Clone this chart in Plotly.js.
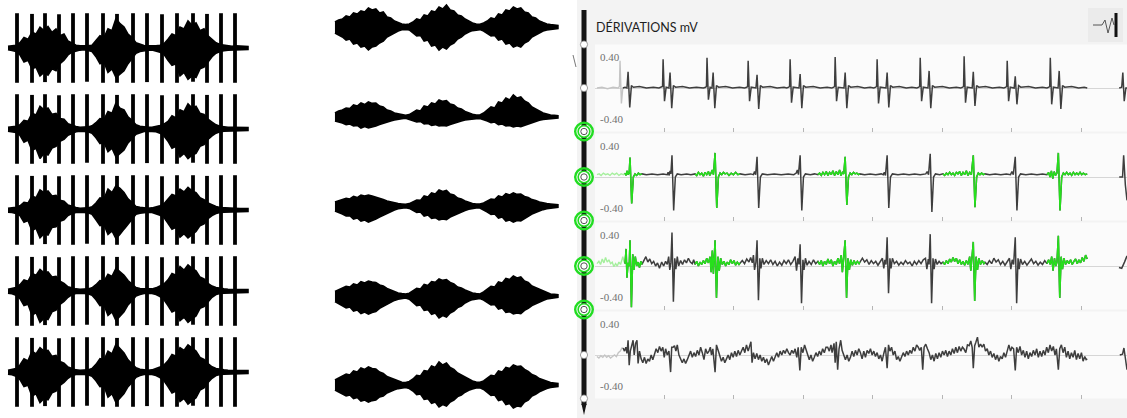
<!DOCTYPE html>
<html><head><meta charset="utf-8">
<script src="https://cdn.plot.ly/plotly-3.0.1.min.js"></script>
<style>html,body{margin:0;padding:0;background:#fff}#chart{width:1127px;height:418px}</style>
</head><body><div id="chart"></div>
<script>
// ================= DATA =================
// Left panel: 5 rows of spikes + envelope bursts (sample index 0..60)
const leftGrid = [0,1,2,3,4,5,6,7,8,9,10,11,12,13,14,15,16,17,18,19,20,21,22,23,24,25,26,27,28,29,30,31,32,33,34,35,36,37,38,39,40,41,42,43,44,45,46,47,48,49,50,51,52,53,54,55,56,57,58,59,60];
const leftSpikeX = [2.25,6,9.25,12.75,16.25,19.75,23.75,27.25,31.25,34.75,38.5,42.25,46.25,49.75,53.25,56.75];
const leftSpikeUp = [1.0,0.98,1.0,0.97,1.0,1.0,1.0,0.98,1.0,1.0,0.97,1.0,1.0,0.98,1.0,1.0];
const leftSpikeDown = [1.0,1.0,0.98,1.0,1.0,0.97,1.0,1.0,1.0,0.98,1.0,1.0,0.97,1.0,1.0,1.0];
const leftUpper1 = [0.05,0.06,0.08, 0.15,0.3,0.25,0.45,0.4,0.6,0.5,0.62,0.45,0.55,0.35,0.4,0.2, 0.15,0.08,0.06,0.05,0.06,0.08, 0.2,0.35,0.3,0.55,0.5,0.85,0.7,0.6,0.4,0.3,0.15, 0.1,0.07,0.06,0.05,0.06,0.08,0.12, 0.25,0.4,0.35,0.6,0.55,0.78,0.65,0.72,0.5,0.55,0.35,0.25,0.15, 0.1,0.08,0.06,0.05,0.06,0.05,0.04,0.04];
const leftLower1 = [0.05,0.07,0.1, 0.2,0.4,0.35,0.6,0.55,0.8,0.7,0.78,0.6,0.65,0.45,0.35,0.2, 0.12,0.08,0.06,0.05,0.07,0.1, 0.25,0.45,0.4,0.7,0.6,0.85,0.75,0.65,0.45,0.3,0.15, 0.1,0.07,0.06,0.06,0.08,0.12,0.18, 0.35,0.5,0.45,0.8,0.7,0.9,0.8,0.85,0.6,0.55,0.4,0.25,0.15, 0.1,0.08,0.06,0.05,0.05,0.05,0.04,0.04];
const leftUpper2 = [0.05,0.06,0.08, 0.12,0.25,0.22,0.45,0.4,0.65,0.55,0.6,0.42,0.45,0.3,0.28,0.15, 0.1,0.07,0.05,0.05,0.06,0.09, 0.18,0.3,0.28,0.5,0.45,0.75,0.6,0.55,0.35,0.25,0.12, 0.08,0.06,0.05,0.05,0.07,0.1,0.14, 0.22,0.38,0.32,0.55,0.5,0.72,0.6,0.65,0.45,0.42,0.28,0.2,0.12, 0.08,0.06,0.05,0.05,0.05,0.04,0.04,0.04];
const leftLower2 = [0.06,0.07,0.1, 0.18,0.38,0.32,0.62,0.55,0.85,0.7,0.75,0.55,0.5,0.35,0.3,0.18, 0.12,0.08,0.06,0.06,0.08,0.12, 0.25,0.42,0.38,0.65,0.55,0.8,0.7,0.6,0.4,0.28,0.15, 0.1,0.07,0.06,0.06,0.08,0.12,0.2, 0.35,0.55,0.5,0.8,0.7,0.85,0.75,0.7,0.5,0.45,0.3,0.2,0.12, 0.08,0.06,0.05,0.05,0.05,0.04,0.04,0.04];
const leftUpper3 = [0.05,0.06,0.08, 0.12,0.22,0.2,0.4,0.35,0.58,0.5,0.55,0.4,0.42,0.28,0.25,0.14, 0.1,0.07,0.05,0.05,0.06,0.09, 0.2,0.35,0.32,0.6,0.5,0.7,0.62,0.5,0.32,0.22,0.1, 0.08,0.06,0.05,0.06,0.08,0.12,0.18, 0.3,0.45,0.4,0.6,0.52,0.65,0.55,0.5,0.35,0.3,0.2,0.14,0.1, 0.07,0.06,0.05,0.05,0.05,0.04,0.04,0.04];
const leftLower3 = [0.06,0.07,0.1, 0.16,0.35,0.3,0.6,0.52,0.8,0.68,0.72,0.5,0.48,0.32,0.28,0.16, 0.1,0.07,0.06,0.06,0.08,0.12, 0.28,0.45,0.42,0.7,0.6,0.82,0.7,0.55,0.38,0.26,0.12, 0.09,0.07,0.06,0.07,0.1,0.15,0.22, 0.38,0.55,0.5,0.78,0.68,0.8,0.7,0.62,0.45,0.4,0.25,0.16,0.1, 0.07,0.06,0.05,0.05,0.05,0.04,0.04,0.04];
const leftUpper4 = [0.05,0.07,0.1, 0.18,0.32,0.28,0.5,0.45,0.62,0.52,0.55,0.4,0.42,0.28,0.22,0.12, 0.08,0.06,0.05,0.05,0.06,0.09, 0.18,0.3,0.28,0.48,0.42,0.65,0.55,0.45,0.3,0.2,0.1, 0.07,0.06,0.05,0.06,0.09,0.14,0.2, 0.32,0.5,0.45,0.7,0.6,0.75,0.65,0.58,0.4,0.35,0.22,0.14,0.1, 0.07,0.06,0.05,0.05,0.05,0.04,0.04,0.04];
const leftLower4 = [0.06,0.08,0.12, 0.22,0.42,0.38,0.7,0.62,0.9,0.78,0.82,0.6,0.55,0.38,0.3,0.18, 0.1,0.07,0.06,0.06,0.08,0.12, 0.25,0.42,0.4,0.7,0.6,0.85,0.72,0.6,0.4,0.28,0.14, 0.1,0.07,0.06,0.07,0.1,0.16,0.25, 0.42,0.6,0.55,0.85,0.75,0.9,0.8,0.72,0.5,0.45,0.3,0.18,0.1, 0.07,0.06,0.05,0.05,0.05,0.04,0.04,0.04];
const leftUpper5 = [0.05,0.07,0.1, 0.2,0.38,0.32,0.6,0.52,0.7,0.6,0.62,0.45,0.48,0.3,0.25,0.14, 0.09,0.06,0.05,0.05,0.06,0.1, 0.22,0.38,0.35,0.6,0.52,0.8,0.68,0.55,0.35,0.22,0.12, 0.08,0.06,0.05,0.06,0.09,0.14,0.2, 0.32,0.5,0.45,0.7,0.62,0.78,0.68,0.6,0.42,0.36,0.24,0.15,0.1, 0.07,0.06,0.05,0.05,0.05,0.04,0.04,0.04];
const leftLower5 = [0.06,0.08,0.12, 0.22,0.42,0.38,0.7,0.62,0.88,0.76,0.8,0.6,0.55,0.38,0.3,0.18, 0.1,0.07,0.06,0.06,0.08,0.12, 0.25,0.42,0.4,0.72,0.62,0.88,0.75,0.62,0.42,0.3,0.15, 0.1,0.07,0.06,0.07,0.1,0.16,0.25, 0.42,0.6,0.55,0.85,0.76,0.92,0.82,0.74,0.52,0.46,0.3,0.18,0.1, 0.07,0.06,0.05,0.05,0.05,0.04,0.04,0.04];

// Middle panel: 5 rows of envelope bursts (sample index 0..60)
const midGrid = leftGrid;
const midUpper1 = [0.25,0.35,0.4,0.55,0.5,0.7,0.65,0.8,0.75,0.95,0.85,0.9,0.7,0.75,0.5,0.45,0.3,0.22,0.15,0.12, 0.15,0.25,0.4,0.35,0.6,0.55,0.8,0.75,1.0,0.9,1.1,0.85,0.8,0.6,0.55,0.4,0.3,0.2,0.15,0.14, 0.2,0.3,0.45,0.4,0.65,0.6,0.85,0.8,1.0,0.9,0.95,0.75,0.7,0.5,0.45,0.3,0.22,0.15,0.12,0.1,0.08];
const midLower1 = [0.3,0.4,0.5,0.65,0.6,0.85,0.8,1.0,0.95,1.15,1.0,0.95,0.8,0.7,0.5,0.4,0.3,0.2,0.14,0.12, 0.15,0.3,0.45,0.42,0.7,0.65,0.95,0.9,1.15,1.0,1.1,0.9,0.8,0.6,0.5,0.35,0.25,0.18,0.14,0.13, 0.2,0.32,0.45,0.42,0.65,0.6,0.85,0.8,1.0,0.92,1.0,0.8,0.7,0.5,0.42,0.3,0.2,0.15,0.12,0.1,0.08];
const midUpper2 = [0.2,0.3,0.35,0.45,0.42,0.6,0.55,0.7,0.62,0.75,0.68,0.7,0.55,0.5,0.35,0.3,0.2,0.15,0.1,0.08, 0.12,0.22,0.35,0.3,0.55,0.5,0.7,0.65,0.85,0.78,0.82,0.65,0.6,0.45,0.4,0.28,0.2,0.14,0.1,0.1, 0.2,0.35,0.5,0.45,0.75,0.7,0.95,0.85,1.1,0.95,1.0,0.8,0.7,0.5,0.42,0.3,0.2,0.14,0.1,0.08,0.06];
const midLower2 = [0.2,0.25,0.3,0.38,0.35,0.45,0.42,0.55,0.48,0.55,0.5,0.45,0.38,0.32,0.25,0.2,0.15,0.1,0.08,0.06, 0.1,0.18,0.25,0.22,0.35,0.32,0.42,0.38,0.45,0.42,0.45,0.38,0.32,0.25,0.2,0.15,0.12,0.1,0.08,0.08, 0.12,0.2,0.28,0.25,0.38,0.35,0.45,0.42,0.5,0.45,0.48,0.4,0.35,0.28,0.22,0.16,0.12,0.1,0.08,0.06,0.05];
const midUpper3 = [0.2,0.25,0.3,0.38,0.35,0.48,0.42,0.55,0.5,0.55,0.5,0.45,0.38,0.32,0.25,0.2,0.15,0.12,0.1,0.08, 0.12,0.2,0.3,0.28,0.5,0.45,0.65,0.6,0.8,0.72,0.78,0.6,0.55,0.4,0.35,0.25,0.18,0.12,0.1,0.1, 0.15,0.25,0.35,0.32,0.5,0.45,0.62,0.55,0.65,0.58,0.6,0.48,0.42,0.32,0.28,0.2,0.15,0.12,0.1,0.08,0.06];
const midLower3 = [0.25,0.32,0.4,0.5,0.48,0.65,0.6,0.75,0.7,0.8,0.72,0.65,0.55,0.45,0.35,0.28,0.2,0.14,0.1,0.08, 0.12,0.22,0.32,0.3,0.5,0.45,0.62,0.58,0.7,0.65,0.68,0.55,0.48,0.38,0.3,0.22,0.16,0.12,0.1,0.1, 0.18,0.3,0.42,0.4,0.6,0.55,0.75,0.7,0.8,0.72,0.75,0.6,0.52,0.4,0.32,0.24,0.18,0.14,0.1,0.08,0.06];
const midUpper4 = [0.22,0.3,0.38,0.48,0.45,0.6,0.55,0.72,0.65,0.75,0.7,0.68,0.55,0.5,0.38,0.3,0.2,0.15,0.12,0.1, 0.14,0.25,0.38,0.35,0.58,0.52,0.72,0.68,0.85,0.78,0.82,0.68,0.6,0.45,0.4,0.3,0.22,0.15,0.12,0.1, 0.2,0.32,0.48,0.45,0.7,0.65,0.88,0.82,1.0,0.9,0.95,0.75,0.68,0.5,0.42,0.3,0.22,0.15,0.1,0.08,0.06];
const midLower4 = [0.28,0.38,0.48,0.6,0.55,0.75,0.7,0.88,0.8,0.9,0.82,0.78,0.62,0.55,0.42,0.32,0.22,0.16,0.12,0.1, 0.16,0.3,0.48,0.45,0.72,0.68,0.92,0.85,1.1,0.98,1.05,0.85,0.75,0.58,0.5,0.35,0.25,0.18,0.14,0.12, 0.2,0.32,0.45,0.42,0.65,0.6,0.82,0.78,0.9,0.85,0.88,0.72,0.62,0.48,0.4,0.3,0.22,0.15,0.1,0.08,0.06];
const midUpper5 = [0.25,0.35,0.45,0.55,0.5,0.7,0.65,0.85,0.78,0.9,0.82,0.8,0.65,0.58,0.42,0.35,0.25,0.18,0.14,0.12, 0.18,0.3,0.48,0.45,0.72,0.68,0.95,0.88,1.15,1.0,1.1,0.88,0.78,0.6,0.5,0.38,0.28,0.2,0.15,0.14, 0.2,0.32,0.48,0.45,0.7,0.65,0.88,0.82,1.0,0.92,0.95,0.78,0.68,0.52,0.45,0.32,0.24,0.16,0.12,0.1,0.08];
const midLower5 = [0.25,0.35,0.45,0.55,0.5,0.68,0.62,0.8,0.75,0.85,0.78,0.75,0.6,0.55,0.4,0.32,0.24,0.18,0.14,0.12, 0.18,0.3,0.48,0.45,0.72,0.68,0.92,0.85,1.1,0.98,1.05,0.85,0.75,0.58,0.5,0.36,0.26,0.2,0.15,0.14, 0.22,0.35,0.52,0.5,0.78,0.72,0.98,0.92,1.15,1.05,1.08,0.85,0.75,0.55,0.46,0.34,0.25,0.18,0.12,0.1,0.08];

// Right panel: ECG leads, [time ms, mV]
const ecgTickMs = [250,500,750,1000,1250,1500,1750];
const ecgLabelVals = [0.4,-0.4];
const ecgLabelText = ['0.40','-0.40'];
const leadI = [[7,0],[25,0.01],[45,-0.01],[65,0.01],[83,0],[88,0.02],[90,0.35],[95,-0.2],[100,0],
[108,0.01],[115,0],[119,0.21],[125,-0.25],[131,0.03],[138,0.01],[160,0.02],[185,0],[210,0.01],[230,0],[238,0.01],
[243,0.02],[245,0.37],[250,-0.17],[256,0.01],[266,0],[270,0.2],[276,-0.26],[282,0.03],[290,0.01],[315,0.02],[340,0],[365,0.01],[390,0],[398,0.01],
[401,0.02],[403,0.39],[408,-0.15],[414,0.01],[421,0],[425,0.2],[431,-0.26],[437,0.03],[445,0.01],[470,0.02],[495,0],[520,0.01],[538,0],[546,0.01],
[549,0.02],[551,0.35],[556,-0.17],[562,0.01],[579,0],[583,0.17],[589,-0.27],[595,0.03],[603,0.01],[630,0.02],[655,0],[680,0.01],[690,0],[697,0.01],
[700,0.02],[702,0.37],[707,-0.19],[713,0.01],[734,0],[738,0.18],[744,-0.26],[750,0.03],[758,0.01],[785,0.02],[810,0],[835,0.01],[852,0],[859,0.01],
[862,0.02],[864,0.4],[869,-0.17],[875,0.01],[896,0],[900,0.2],[906,-0.26],[912,0.03],[920,0.01],[945,0.02],[970,0],[990,0.01],[1003,0],[1010,0.01],
[1013,0.02],[1015,0.37],[1020,-0.2],[1026,0.01],[1047,0],[1051,0.2],[1057,-0.25],[1063,0.03],[1071,0.01],[1095,0.02],[1120,0],[1140,0.01],[1158,0],[1165,0.01],
[1168,0.02],[1170,0.39],[1175,-0.17],[1181,0.01],[1198,0],[1202,0.22],[1208,-0.26],[1214,0.03],[1222,0.01],[1250,0.02],[1275,0],[1300,0.01],[1316,0],[1323,0.01],
[1326,0.02],[1328,0.41],[1333,-0.19],[1339,0.01],[1357,0],[1361,0.21],[1367,-0.23],[1373,0.03],[1381,0.01],[1405,0.02],[1430,0],[1455,0.01],[1471,0],[1478,0.01],
[1481,0.02],[1483,0.35],[1488,-0.17],[1494,0.01],[1508,0],[1512,0.15],[1518,-0.21],[1524,0.03],[1532,0.01],[1560,0.02],[1585,0],[1610,0.01],[1626,0],[1633,0.01],
[1636,0.02],[1638,0.39],[1643,-0.21],[1649,0.01],[1666,0],[1670,0.22],[1676,-0.27],[1682,0.03],[1690,0.01],[1715,0.02],[1740,0],[1760,0.01],[1771,0],
[1800,null],[1886,0],[1895,0.01],[1899,0.2],[1904,-0.17],[1910,0],[1914,0]];
const leadII = [[7,0.03],[15,0.04],[22,0.02],[30,0.05],[38,0.03],[46,0.04],[54,0.02],[62,0.05],[70,0.03],[78,0.05],[86,0.02],[94,0.04],[102,0.03],[108,0.05],
[112,0.02],[116,0.08],[119,0.03],[123,0.05],[126,0.25],[132,-0.34],[138,0],[144,0.04],[150,0.02],[156,0.05],[162,0.03],[169,0.04],
[185,0.03],[205,0.04],[225,0.03],[245,0.04],[260,0.03],[263,0.06],[267,0.02],[270,0.08],[273,0.04],[277,0.28],[283,-0.43],[289,0],[296,0.04],[310,0.03],[330,0.04],[345,0.03],[360,0.04],
[366,0.02],[372,0.06],[378,0.03],[384,0.05],[390,0.01],[396,0.06],[402,0.03],[408,0.07],[413,0.02],[418,0.05],[422,0.09],[426,0.03],[432,0.31],[438,-0.4],[444,0],[450,0.05],[456,0.03],[462,0.06],[468,0.04],[475,0.05],[482,0.02],[490,0.05],[498,0.03],[506,0.06],[514,0.03],[522,0.04],
[540,0.03],[560,0.04],[570,0.03],[574,0.07],[578,0.03],[583,0.26],[589,-0.4],[595,0],[602,0.04],[620,0.03],[645,0.04],[670,0.03],[695,0.04],[715,0.03],[724,0.05],[728,0.09],[732,0.03],[738,0.28],[744,-0.43],[750,0],[757,0.04],[775,0.03],[790,0.04],[802,0.03],
[808,0.05],[814,0.02],[820,0.06],[826,0.03],[832,0.07],[838,0.02],[844,0.06],[850,0.03],[856,0.08],[862,0.02],[868,0.07],[874,0.03],[880,0.09],[885,0.02],[890,0.06],[895,0.04],[900,0.26],[906,-0.36],[912,0],[918,0.05],[924,0.03],[930,0.06],[936,0.04],[942,0.05],[948,0.03],[953,0.04],
[970,0.03],[990,0.04],[1010,0.03],[1030,0.04],[1037,0.03],[1041,0.06],[1045,0.02],[1051,0.28],[1057,-0.4],[1063,0],[1070,0.04],[1090,0.03],[1110,0.04],[1130,0.03],[1150,0.04],[1170,0.03],[1190,0.04],[1195,0.07],[1200,0.03],[1206,0.3],[1212,-0.45],[1218,0],[1225,0.04],[1240,0.03],[1252,0.04],
[1258,0.02],[1264,0.05],[1270,0.03],[1276,0.06],[1282,0.03],[1288,0.05],[1294,0.02],[1300,0.06],[1306,0.04],[1312,0.07],[1318,0.02],[1324,0.06],[1330,0.03],[1336,0.08],[1342,0.02],[1348,0.06],[1354,0.03],[1361,0.28],[1367,-0.39],[1373,0],[1379,0.05],[1385,0.03],[1391,0.05],[1397,0.03],[1403,0.04],
[1420,0.03],[1440,0.04],[1460,0.03],[1480,0.04],[1495,0.03],[1500,0.07],[1505,0.03],[1512,0.26],[1518,-0.43],[1524,0],[1531,0.04],[1550,0.03],[1570,0.04],[1590,0.03],[1610,0.04],[1626,0.03],
[1632,0.06],[1637,0],[1642,0.08],[1647,-0.02],[1652,0.07],[1657,0.02],[1662,0.05],[1667,0.31],[1673,-0.43],[1679,0],[1685,0.05],[1691,0.03],[1697,0.06],[1703,0.03],[1709,0.05],[1715,0.02],[1721,0.06],[1727,0.03],[1733,0.05],[1739,0.03],[1745,0.06],[1751,0.03],[1757,0.05],[1764,0.03],[1771,0.04],
[1800,null],[1886,0],[1898,0],[1902,0.28],[1908,-0.1],[1914,-0.3]];
const leadIII = [[7,0.03],[14,0.06],[20,0.02],[26,0.09],[32,0.04],[38,0.11],[44,0.05],[50,0.08],[56,0.03],[62,0.05],[68,-0.01],[74,0.03],[80,0],[86,0.05],[92,0.02],[100,0.12],[104,0.06],[108,0.03],
[112,0.22],[115,-0.15],[119,0.04],[123,0],[126,0.33],[131,-0.53],[136,0.15],[140,-0.05],[145,0.12],[150,0],[155,0.05],[160,-0.02],[165,0.06],[169,0.02],
[176,0.08],[183,0.12],[190,0.05],[197,0.09],[204,0.03],[211,0.06],[218,0],[225,0.04],[232,-0.03],[240,0.05],[247,0],[254,0.06],[260,0.02],[265,0.12],[269,-0.05],[273,0.04],[277,0.43],[282,-0.46],[287,0.1],[291,-0.04],[296,0.12],[301,0],[308,0.07],[315,0.02],[322,0.08],[329,0.04],[336,0.1],[343,0.05],[350,0.03],[355,0.08],[360,0.02],
[366,0.06],[372,0],[378,0.05],[384,0.02],[390,0.07],[396,0.03],[402,0.1],[408,0.04],[414,0.12],[418,-0.08],[422,0.2],[426,-0.1],[432,0.33],[437,-0.41],[442,0.12],[447,-0.06],[452,0.1],[458,0.02],[464,0.06],[470,0],[476,0.05],[482,0.02],[488,0.08],[494,0.03],[500,0.07],[506,0.01],[512,0.05],[518,0.02],[522,0.04],
[530,0.07],[538,0.03],[546,0.09],[554,0.05],[560,0.11],[566,0.04],[570,0.14],[574,-0.05],[579,0.05],[583,0.33],[588,-0.44],[593,0.1],[597,-0.03],[602,0.1],[608,0.02],[616,0.07],[624,0.03],[632,0.08],[640,0.02],[648,0.06],[656,0],[664,0.05],[672,0.01],[680,0.07],[688,0.03],[696,0.08],[704,0.02],[712,0.06],[720,0.12],[725,-0.06],[730,0.1],[734,0.02],[738,0.28],[743,-0.48],[748,0.08],[752,-0.05],[757,0.1],[763,0.01],[770,0.06],[778,0.02],[786,0.08],[794,0.03],[802,0.06],
[808,0.02],[814,0.07],[820,0],[826,0.06],[832,0.02],[838,0.09],[844,0.03],[850,0.08],[856,0],[862,0.06],[868,0.02],[874,0.1],[880,0.03],[886,0.14],[890,-0.08],[895,0.12],[900,0.33],[905,-0.41],[910,0.1],[915,-0.05],[920,0.08],[926,0.01],[932,0.07],[938,0.02],[944,0.06],[950,0.03],[953,0.05],
[962,0.1],[970,0.05],[978,0.08],[986,0.02],[994,0.07],[1002,0.03],[1010,0.06],[1018,0.01],[1026,0.05],[1034,0.1],[1039,-0.03],[1043,0.08],[1047,0.02],[1051,0.37],[1056,-0.35],[1061,0.1],[1065,-0.03],[1070,0.1],[1077,0.03],[1085,0.06],[1093,0.01],[1101,0.05],[1109,0.02],[1117,0.07],[1125,0.03],[1133,0.05],[1141,0],[1149,0.06],[1157,0.02],[1165,0.07],[1173,0.03],[1181,0.08],[1189,0.1],[1194,-0.04],[1199,0.09],[1202,0.02],[1206,0.41],[1211,-0.48],[1216,0.1],[1220,-0.04],[1225,0.09],[1231,0.02],[1238,0.06],[1245,0.03],[1252,0.05],
[1258,0.02],[1264,0.07],[1270,0.03],[1276,0.09],[1282,0.05],[1288,0.11],[1294,0.06],[1300,0.1],[1306,0.03],[1312,0.08],[1318,0.02],[1324,0.06],[1330,0.01],[1336,0.07],[1342,0.02],[1348,0.12],[1352,-0.06],[1356,0.1],[1361,0.31],[1366,-0.45],[1371,0.12],[1376,-0.05],[1381,0.1],[1387,0.02],[1393,0.07],[1399,0.03],[1403,0.05],
[1411,0.02],[1419,0.07],[1427,0.03],[1435,0.1],[1443,0.05],[1451,0.08],[1459,0.02],[1467,0.06],[1475,0.01],[1483,0.05],[1491,0.1],[1496,-0.04],[1501,0.08],[1506,0.02],[1512,0.37],[1517,-0.48],[1522,0.1],[1526,-0.04],[1531,0.09],[1538,0.02],[1546,0.06],[1554,0.01],[1562,0.05],[1570,0.09],[1578,0.03],[1586,0.06],[1594,0.01],[1602,0.05],[1610,0.02],[1618,0.07],[1626,0.03],
[1632,0.08],[1638,0.02],[1643,0.12],[1648,-0.06],[1653,0.1],[1658,0],[1662,0.05],[1667,0.39],[1672,-0.41],[1677,0.12],[1682,-0.04],[1687,0.1],[1693,0.02],[1699,0.07],[1705,0.03],[1711,0.08],[1717,0.02],[1723,0.06],[1729,0.09],[1735,0.03],[1741,0.08],[1747,0.04],[1753,0.11],[1759,0.06],[1765,0.14],[1771,0.09],
[1800,null],[1885,-0.02],[1895,-0.03],[1905,0.05],[1914,0.13]];
const leadIV = [[7,-0.02],[14,-0.04],[21,-0.01],[28,-0.03],[35,0],[42,-0.03],[49,-0.01],[56,-0.04],[63,-0.02],[70,0],[77,-0.02],[84,0.03],[91,0.05],[97,0.09],[101,0.09],
[106,0.05],[111,0.1],[115,0.02],[119,0.19],[123,-0.13],[127,0.05],[132,0.12],[137,0.19],[141,0],[146,0.15],[151,0.19],[155,-0.11],[160,0.05],[166,-0.05],[172,-0.1],[178,-0.03],[184,-0.11],[190,-0.05],[196,-0.08],[202,0],[208,-0.06],[214,0.03],[220,0.08],[226,0.03],[232,0.11],[238,0.05],[244,0.1],[249,-0.03],[254,0.08],[260,0],[266,0.05],[272,-0.22],[276,0.1],[281,0.1],[286,0.12],[291,0.05],[296,0.13],[302,0],[308,-0.05],[314,-0.1],[320,-0.05],[326,-0.11],[332,-0.06],[338,0],[344,0.05],[350,-0.03],[356,0.03],[362,-0.02],[368,0.06],[374,0],[380,0.1],[386,0.03],[392,-0.06],[398,0.08],[404,0.02],[410,0.05],[415,0.1],[419,0],[424,0.08],[432,-0.22],[437,0.13],[443,0.06],[449,-0.03],[455,-0.08],[461,-0.03],[467,-0.1],[473,-0.05],[479,0],[485,-0.06],[491,0.03],[497,-0.03],[503,0.05],[509,-0.02],[515,0.06],[521,0],[527,0.05],[533,0.1],[539,0.03],[545,0.13],[551,0.05],[556,0.12],[561,0.17],[565,-0.1],[570,0.03],[576,-0.05],[582,0.02],[588,-0.06],[594,0],[600,-0.08],[606,-0.03],[612,-0.1],[618,-0.05],[624,-0.13],[630,-0.06],[636,-0.02],[642,-0.08],[648,-0.03],[654,0.03],[660,-0.03],[666,0.05],[672,0],[678,0.06],[684,0.02],[690,0.08],[696,0.03],[702,0],[708,0.06],[714,0.02],[720,0.08],[726,-0.03],[731,0.1],[737,-0.2],[742,0.1],[748,0.03],[754,0.13],[759,0.08],[765,0],[771,-0.06],[777,0],[783,-0.08],[789,-0.03],[795,0.03],[801,-0.02],[807,0.05],[813,0],[819,0.08],[825,0.03],[831,0.1],[837,0.1],[843,0.05],[849,0.13],[853,0.03],[860,0.15],[864,-0.1],[868,0.17],[873,-0.19],[878,0.08],[884,0.19],[889,0.06],[895,0],[901,-0.06],[907,0],[913,-0.08],[919,-0.03],[925,0.05],[931,-0.02],[937,0.06],[943,0],[949,0.08],[955,0.03],[961,-0.05],[967,0.05],[973,-0.03],[979,0.06],[985,0.02],[991,0.08],[997,0],[1003,0.05],[1009,-0.02],[1015,0.03],[1021,-0.05],[1027,0],[1033,-0.08],[1039,0.02],[1045,0.1],[1051,-0.17],[1056,0.13],[1061,0.05],[1067,0.1],[1073,0],[1079,0.05],[1085,-0.06],[1091,-0.02],[1097,-0.08],[1103,-0.03],[1109,0.03],[1115,-0.02],[1121,0.05],[1127,0],[1133,0.06],[1139,0.02],[1145,0.1],[1151,0.05],[1157,0.13],[1163,0.1],[1168,0.06],[1174,0.1],[1179,-0.19],[1184,0.1],[1190,0.14],[1196,0.08],[1202,0.03],[1208,-0.06],[1214,0],[1220,-0.08],[1226,0.02],[1232,-0.05],[1238,0.03],[1244,-0.03],[1250,0.05],[1256,0],[1262,0.06],[1268,-0.02],[1274,0.05],[1280,0],[1286,0.08],[1292,0.02],[1298,0.1],[1304,0.03],[1310,0.11],[1316,0.05],[1322,0.1],[1327,0.08],[1334,0.03],[1340,0.13],[1346,0.12],[1352,0.18],[1357,0.1],[1361,-0.17],[1366,0.12],[1370,0.16],[1376,0.23],[1381,0.1],[1387,0.14],[1393,0.1],[1399,0.14],[1405,0.05],[1411,0.08],[1417,0],[1423,0.05],[1429,-0.03],[1435,0.02],[1441,-0.06],[1447,0],[1453,-0.08],[1459,-0.02],[1465,-0.05],[1471,0.03],[1477,-0.03],[1483,0.05],[1489,0.13],[1495,0.05],[1500,0.1],[1506,0.08],[1512,-0.2],[1517,0.1],[1523,0.03],[1529,0.11],[1535,0],[1541,0.06],[1547,-0.03],[1553,0.05],[1559,-0.05],[1565,0.03],[1571,-0.02],[1577,0.06],[1583,0],[1589,0.08],[1595,-0.03],[1601,0.05],[1607,-0.02],[1613,0.06],[1619,0],[1625,0.1],[1631,0.03],[1637,0.13],[1643,0.05],[1649,0.11],[1655,0],[1660,0.08],[1667,-0.19],[1672,0.08],[1678,0.13],[1684,0.03],[1690,0.1],[1696,-0.03],[1702,0.05],[1708,-0.05],[1714,0.03],[1720,-0.03],[1726,0.06],[1732,-0.06],[1738,0.02],[1744,-0.05],[1750,0.03],[1756,-0.08],[1762,-0.02],[1767,-0.06],[1771,-0.05],
[1800,null],[1888,0],[1898,0.01],[1903,0.09],[1908,-0.05],[1914,-0.19]];
const fadeEndMs = [100,108,108,101];
const highlightWindowsMs = [[108,169],[360,522],[802,953],[1252,1403],[1626,1771]];
const highlightedLeads = [2,3];

// ================= BUILD =================
const W = 1127, H = 418;
const px = x => x / W, py = y => 1 - y / H;
const traces = [];
const layout = {
  width: W, height: H, margin: {l:0, r:0, t:0, b:0},
  paper_bgcolor: '#ffffff', plot_bgcolor: 'rgba(0,0,0,0)',
  showlegend: false, hovermode: false, shapes: [], annotations: []
};
function hiddenAxis(extra){ return Object.assign({showgrid:false, zeroline:false, showticklabels:false, ticks:'', showline:false, fixedrange:true}, extra); }
function envelope(grid, up, lo, ax){
  return {type:'scatter', mode:'lines', x:grid.concat(grid.slice().reverse()),
    y:up.concat(lo.slice().reverse().map(v=>-v)), fill:'toself', fillcolor:'#000',
    line:{color:'#000', width:1.6}, xaxis:'x'+ax, yaxis:'y'+ax};
}

let ax = 0;
// Left panel
const leftRows = [[leftUpper1,leftLower1],[leftUpper2,leftLower2],[leftUpper3,leftLower3],[leftUpper4,leftLower4],[leftUpper5,leftLower5]];
const leftCenters = [48,129,210,291,372];
leftRows.forEach((r,i) => {
  ax++;
  const k = ax === 1 ? '' : ax;
  layout['xaxis'+k] = hiddenAxis({domain:[px(6), px(250)], range:[-0.5,60.5], anchor:'y'+ax});
  layout['yaxis'+k] = hiddenAxis({domain:[py(leftCenters[i]+40), py(leftCenters[i]-40)], range:[-1.15,1.15], anchor:'x'+ax});
  traces.push(envelope(leftGrid, r[0], r[1], ax));
  const sx = [], sy = [];
  leftSpikeX.forEach((s,j) => { sx.push(s,s,null); sy.push(-leftSpikeDown[j], leftSpikeUp[j], null); });
  traces.push({type:'scatter', mode:'lines', x:sx, y:sy, line:{color:'#000', width:3.8}, xaxis:'x'+ax, yaxis:'y'+ax});
});
// Middle panel
const midRows = [[midUpper1,midLower1],[midUpper2,midLower2],[midUpper3,midLower3],[midUpper4,midLower4],[midUpper5,midLower5]];
const midCenters = [27,117,206,296,385];
midRows.forEach((r,i) => {
  ax++;
  layout['xaxis'+ax] = hiddenAxis({domain:[px(333.1), px(559.8)], range:[-0.5,60.5], anchor:'y'+ax});
  layout['yaxis'+ax] = hiddenAxis({domain:[py(midCenters[i]+26), py(midCenters[i]-26)], range:[-1.3,1.3], anchor:'x'+ax});
  traces.push(envelope(midGrid, r[0], r[1], ax));
});

// Right panel background
layout.shapes.push({type:'rect', xref:'paper', yref:'paper', x0:px(577), x1:1, y0:0, y1:1, fillcolor:'#f3f3f3', line:{width:0}, layer:'below'});
const leads = [leadI, leadII, leadIII, leadIV];
const ecgCenters = [88,177,266,355], ecgHalf = 43.5;
function seg(pts, a, b){ const s = pts.filter(p => p[0] >= a && p[0] <= b); return {x:s.map(p=>p[0]), y:s.map(p=>p[1])}; }
leads.forEach((pts,i) => {
  ax++;
  const c = ecgCenters[i];
  layout['xaxis'+ax] = {domain:[px(595), 1], range:[0,1914], anchor:'y'+ax, showgrid:false, zeroline:false, showline:false,
    showticklabels:false, ticks:'inside', tickvals:ecgTickMs, ticklen:4, tickwidth:1, tickcolor:'#b5b5b5', fixedrange:true};
  layout['yaxis'+ax] = {domain:[py(c+ecgHalf), py(c-ecgHalf)], range:[-0.56,0.56], anchor:'x'+ax, showgrid:false,
    zeroline:true, zerolinecolor:'#d6d6d6', zerolinewidth:1, showline:false, ticks:'',
    tickvals:ecgLabelVals, ticktext:ecgLabelText, ticklabelposition:'inside', ticklabelstandoff:2,
    tickfont:{family:'Liberation Serif, DejaVu Serif, serif', size:11, color:'#707070'}, fixedrange:true};
  layout.shapes.push({type:'rect', xref:'paper', yref:'paper', x0:px(595), x1:1, y0:py(c+ecgHalf), y1:py(c-ecgHalf),
    fillcolor:'#fbfbfb', line:{width:0}, layer:'below'});
  const hl = highlightedLeads.includes(i+1);
  const fade = seg(pts, 0, fadeEndMs[i]);
  traces.push({type:'scatter', mode:'lines', x:fade.x, y:fade.y, line:{color: hl ? '#a6ef9e' : '#c4c4c4', width:1.4}, xaxis:'x'+ax, yaxis:'y'+ax});
  const main = seg(pts, fadeEndMs[i], 5000);
  traces.push({type:'scatter', mode:'lines', x:main.x, y:main.y, line:{color:'#3e3e3e', width:1.5}, xaxis:'x'+ax, yaxis:'y'+ax});
  if (hl) {
    highlightWindowsMs.forEach(w => {
      const g = seg(pts, w[0], w[1]);
      traces.push({type:'scatter', mode:'lines', x:g.x, y:g.y, line:{color:'#26e01c', width:1.5}, xaxis:'x'+ax, yaxis:'y'+ax});
    });
  }
});

// Header
layout.annotations.push({xref:'paper', yref:'paper', x:px(594), y:py(27), xanchor:'left', yanchor:'middle', showarrow:false,
  text:'DÉRIVATIONS mV', font:{family:'Lato, Noto Sans, sans-serif', size:12.5, color:'#1e1e1e'}});
// Icon button
layout.shapes.push({type:'rect', xref:'paper', yref:'paper', x0:px(1088), x1:px(1123), y0:py(42), y1:py(8), fillcolor:'#ebebeb', line:{width:0}});
layout.shapes.push({type:'path', xref:'paper', yref:'paper',
  path:`M${px(1093)},${py(25)} L${px(1102)},${py(25)} L${px(1105)},${py(20)} L${px(1108)},${py(33)} L${px(1112)},${py(18)} L${px(1114)},${py(25)}`,
  line:{color:'#555', width:1}});
layout.shapes.push({type:'line', xref:'paper', yref:'paper', x0:px(1116), x1:px(1116), y0:py(13), y1:py(37), line:{color:'#111', width:3}});
// small diagonal mark
layout.shapes.push({type:'line', xref:'paper', yref:'paper', x0:px(573), x1:px(576), y0:py(55), y1:py(67), line:{color:'#777', width:1}});
// Lead selector bar
layout.shapes.push({type:'line', xref:'paper', yref:'paper', x0:px(584), x1:px(584), y0:py(10), y1:py(405), line:{color:'#141414', width:5}});
layout.shapes.push({type:'path', xref:'paper', yref:'paper', path:`M${px(581.5)},${py(404)} L${px(586.5)},${py(404)} L${px(584)},${py(415)} Z`, fillcolor:'#141414', line:{width:0}});
function circ(cx, cy, r, fill, lc, lw){
  layout.shapes.push({type:'circle', xref:'paper', yref:'paper', x0:px(cx-r), x1:px(cx+r), y0:py(cy+r), y1:py(cy-r),
    fillcolor:fill, line:{color:lc, width:lw}});
}
const knobs = [];
ecgCenters.forEach((c,i) => {
  const hl = highlightedLeads.includes(i+1);
  [c-ecgHalf, c, c+ecgHalf].forEach(y => {
    const e = knobs.find(k => Math.abs(k.y - y) < 3);
    if (e) e.hl = e.hl || hl; else knobs.push({y, hl});
  });
});
knobs.forEach(k => {
  if (k.hl) {
    circ(584, k.y, 8.8, 'rgba(0,0,0,0)', '#22dd22', 2.4);
    circ(584, k.y, 5.8, '#ffffff', '#22dd22', 1.6);
    circ(584, k.y, 3.2, '#ffffff', '#555', 1);
  } else {
    circ(584, k.y, 3.6, '#ffffff', '#888', 0.8);
  }
});

Plotly.newPlot('chart', traces, layout, {staticPlot:true, displayModeBar:false});
</script></body></html>
